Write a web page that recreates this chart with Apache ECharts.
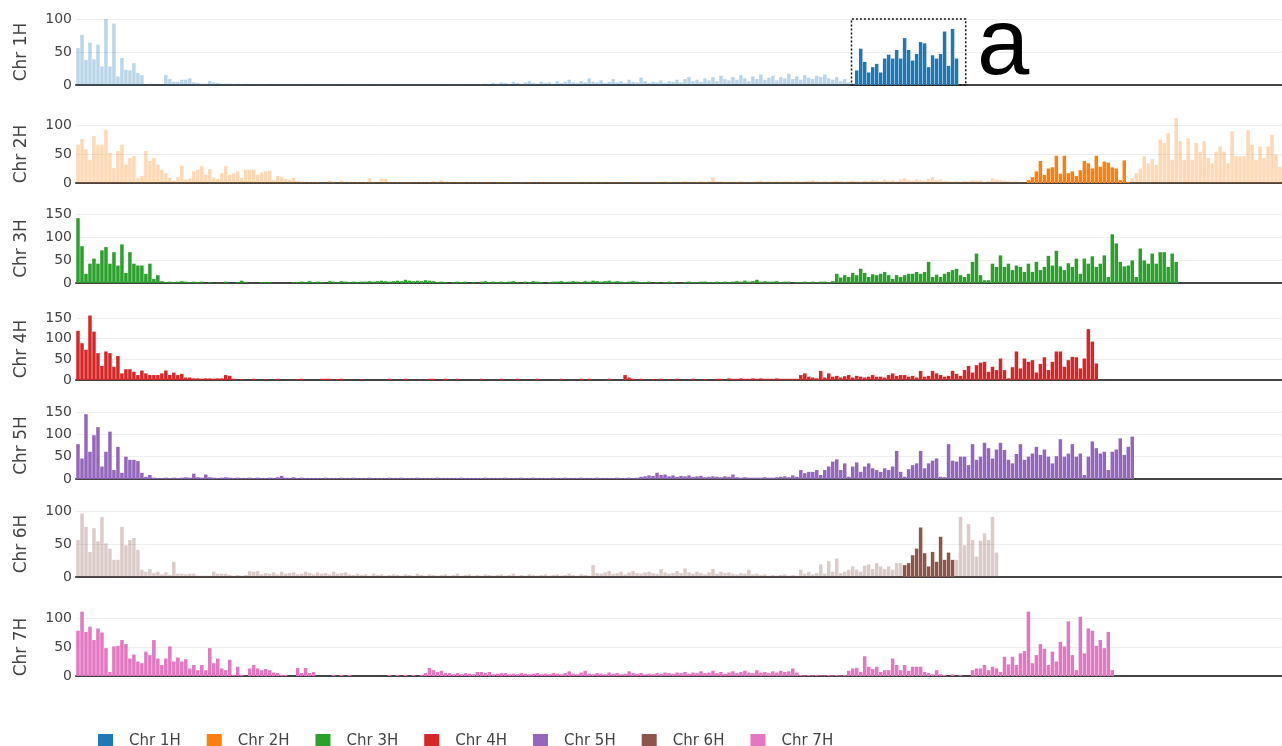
<!DOCTYPE html>
<html>
<head>
<meta charset="utf-8">
<script src="https://cdn.jsdelivr.net/npm/echarts@6/dist/echarts.min.js"></script>
<style>
html,body{margin:0;padding:0;background:#fff;}
#chart{width:1282px;height:746px;}
</style>
</head>
<body>
<div id="chart"></div>
<script>
// Chromosome names (y-axis titles / legend)
const chromosomes = ['Chr 1H', 'Chr 2H', 'Chr 3H', 'Chr 4H', 'Chr 5H', 'Chr 6H', 'Chr 7H'];
const colors = ['#1f77b4', '#ff7f0e', '#2ca02c', '#d62728', '#9467bd', '#8c564b', '#e377c2'];
// Number of position bins along the chromosome axis
const binCount = 302;
// Per-panel y-axis top tick value
const yTopTick = [100, 100, 150, 150, 150, 100, 100];
// Full-panel extent used for the selection box on Chr 1H
const chr1HBoxY = 106;
// Highlighted bin ranges (others faded); null = whole chromosome highlighted
const highlightBins = [[195, 220], [238, 263], null, null, null, [207, 219], null];
// Selection box on Chr 1H (bin coordinates)
const selectionBox = [194.2, 222.8];

const chr1H = [
  56, 76, 38, 64, 39, 61, 28, 100, 28, 93,
  13, 41, 23, 22, 33, 18, 15, 0, 2, 0,
  0, 0, 15, 9, 5, 5, 8, 8, 10, 4,
  3, 2, 2, 6, 4, 3, 2, 2, 2, 1,
  2, 1, 2, 1, 1, 0, 1, 1, 0, 1,
  1, 0, 1, 1, 0, 1, 0, 1, 1, 0,
  1, 1, 0, 1, 0, 1, 1, 0, 1, 1,
  0, 1, 0, 1, 1, 0, 1, 0, 1, 1,
  1, 0, 1, 1, 0, 1, 1, 0, 1, 1,
  0, 1, 1, 0, 1, 1, 0, 1, 1, 1,
  1, 1, 2, 1, 3, 2, 4, 3, 2, 5,
  3, 2, 4, 6, 3, 2, 5, 3, 4, 2,
  6, 3, 5, 8, 4, 3, 6, 4, 10, 5,
  4, 7, 3, 5, 9, 4, 6, 3, 8, 5,
  4, 11, 6, 3, 5, 4, 7, 3, 6, 5,
  8, 4, 9, 12, 6, 8, 5, 10, 7, 12,
  6, 14, 9, 7, 12, 8, 15, 10, 6, 13,
  9, 16, 8, 11, 14, 7, 12, 10, 17, 9,
  13, 8, 15, 11, 9, 14, 12, 16, 10, 8,
  12, 6, 9, 4, 3, 22, 55, 35, 19, 27,
  32, 19, 40, 46, 40, 53, 40, 71, 53, 37,
  47, 65, 63, 27, 45, 40, 47, 81, 29, 85,
  40
];
const chr2H = [
  66, 76, 58, 40, 81, 66, 66, 92, 52, 26,
  55, 66, 32, 43, 46, 9, 12, 55, 38, 43,
  32, 23, 17, 9, 4, 10, 30, 6, 8, 20,
  23, 29, 14, 24, 9, 7, 17, 29, 14, 17,
  20, 9, 23, 23, 23, 14, 18, 20, 21, 5,
  12, 10, 7, 6, 9, 3, 2, 1, 2, 1,
  2, 1, 1, 4, 2, 1, 4, 1, 2, 1,
  2, 1, 2, 8, 2, 1, 8, 7, 2, 1,
  2, 1, 2, 2, 1, 1, 2, 1, 2, 3,
  2, 5, 2, 2, 1, 2, 2, 1, 2, 1,
  2, 1, 2, 2, 1, 2, 1, 2, 2, 1,
  1, 2, 1, 2, 1, 1, 2, 1, 2, 1,
  2, 1, 2, 1, 2, 2, 1, 2, 1, 2,
  1, 2, 1, 2, 2, 1, 2, 1, 1, 2,
  2, 1, 2, 1, 2, 2, 1, 3, 2, 1,
  2, 2, 3, 2, 1, 2, 3, 2, 3, 10,
  2, 3, 2, 1, 2, 2, 3, 2, 1, 2,
  3, 4, 2, 3, 2, 3, 2, 3, 3, 2,
  3, 2, 3, 4, 5, 3, 2, 3, 2, 3,
  4, 3, 2, 3, 4, 3, 2, 4, 3, 5,
  4, 3, 6, 4, 5, 3, 6, 8, 5, 4,
  6, 5, 4, 7, 10, 5, 6, 4, 3, 2,
  3, 2, 4, 3, 5, 4, 5, 2, 3, 8,
  6, 5, 4, 3, 2, 3, 2, 1, 5, 10,
  20, 38, 14, 25, 27, 47, 16, 47, 17, 20,
  12, 22, 38, 34, 25, 47, 28, 37, 35, 27,
  25, 5, 39, 2, 8, 17, 25, 46, 34, 41,
  31, 75, 69, 86, 40, 112, 72, 40, 77, 40,
  69, 54, 72, 43, 34, 54, 63, 54, 34, 89,
  46, 46, 46, 91, 66, 40, 63, 43, 63, 83,
  49, 28
];
const chr3H = [
  141, 80, 20, 42, 53, 42, 71, 78, 42, 67,
  38, 84, 22, 67, 42, 38, 38, 20, 42, 9,
  17, 4, 2, 3, 2, 3, 4, 3, 2, 3,
  2, 3, 0, 2, 0, 1, 0, 3, 0, 0,
  2, 5, 2, 0, 0, 0, 2, 2, 2, 0,
  0, 0, 0, 0, 2, 2, 3, 2, 4, 2,
  3, 2, 0, 4, 3, 2, 4, 3, 2, 3,
  2, 3, 3, 4, 3, 4, 5, 4, 3, 4,
  5, 4, 7, 5, 4, 5, 4, 6, 5, 4,
  2, 3, 2, 0, 2, 3, 2, 3, 0, 2,
  0, 3, 4, 2, 3, 2, 3, 2, 3, 4,
  2, 0, 3, 2, 4, 3, 2, 0, 2, 3,
  3, 4, 2, 3, 4, 3, 2, 4, 3, 5,
  4, 3, 4, 5, 3, 4, 3, 2, 3, 4,
  3, 2, 2, 3, 0, 2, 0, 2, 3, 2,
  0, 0, 2, 3, 2, 2, 3, 3, 2, 2,
  3, 2, 3, 2, 3, 4, 3, 5, 3, 4,
  7, 3, 4, 3, 3, 4, 2, 3, 3, 0,
  2, 2, 3, 2, 3, 2, 3, 3, 2, 4,
  20, 12, 17, 13, 22, 17, 31, 22, 13, 19,
  17, 20, 24, 17, 9, 17, 13, 17, 20, 20,
  24, 20, 24, 46, 13, 18, 13, 20, 24, 28,
  31, 17, 13, 20, 46, 64, 17, 6, 6, 42,
  35, 60, 35, 42, 28, 38, 35, 24, 42, 24,
  46, 28, 35, 59, 38, 70, 36, 28, 43, 35,
  53, 20, 53, 42, 58, 35, 42, 60, 13, 106,
  86, 46, 36, 38, 49, 13, 75, 49, 42, 64,
  42, 67, 67, 35, 64, 46
];
const chr4H = [
  119, 89, 73, 156, 117, 65, 34, 69, 65, 32,
  58, 16, 26, 26, 20, 12, 23, 16, 12, 12,
  12, 16, 23, 12, 18, 12, 15, 6, 6, 4,
  4, 3, 4, 4, 3, 4, 4, 12, 10, 3,
  0, 2, 0, 0, 3, 0, 0, 2, 0, 0,
  3, 0, 0, 0, 0, 2, 3, 0, 0, 0,
  0, 3, 3, 3, 0, 2, 3, 0, 0, 0,
  0, 2, 0, 0, 0, 0, 0, 0, 3, 0,
  0, 0, 3, 0, 0, 0, 0, 0, 3, 3,
  0, 0, 3, 0, 0, 3, 0, 0, 0, 0,
  0, 3, 0, 0, 0, 0, 3, 0, 0, 0,
  3, 0, 0, 0, 0, 3, 0, 0, 0, 0,
  0, 3, 0, 0, 0, 0, 3, 0, 3, 0,
  0, 0, 0, 3, 0, 0, 0, 12, 6, 3,
  0, 3, 0, 0, 2, 0, 3, 0, 2, 0,
  3, 0, 0, 0, 3, 0, 0, 2, 0, 0,
  3, 3, 0, 4, 3, 3, 4, 3, 3, 4,
  3, 4, 3, 3, 3, 4, 3, 3, 3, 3,
  3, 12, 16, 8, 6, 4, 22, 6, 16, 8,
  10, 6, 9, 12, 6, 10, 8, 6, 8, 12,
  8, 8, 6, 12, 16, 10, 12, 12, 8, 10,
  6, 22, 8, 10, 22, 16, 12, 8, 10, 22,
  15, 10, 24, 34, 18, 36, 42, 44, 20, 32,
  24, 52, 24, 4, 31, 69, 28, 52, 44, 48,
  18, 39, 55, 24, 44, 69, 69, 32, 48, 56,
  55, 28, 52, 123, 93, 40
];
const chr5H = [
  78, 46, 145, 61, 98, 116, 28, 61, 106, 20,
  72, 14, 50, 43, 43, 40, 14, 5, 9, 3,
  2, 2, 3, 2, 3, 2, 3, 4, 3, 12,
  4, 3, 10, 4, 3, 2, 3, 4, 3, 2,
  3, 2, 2, 3, 2, 3, 2, 2, 3, 2,
  4, 7, 3, 2, 4, 2, 3, 2, 2, 2,
  2, 2, 3, 2, 2, 2, 3, 2, 2, 3,
  2, 2, 2, 3, 2, 2, 2, 2, 3, 2,
  2, 3, 2, 2, 2, 3, 2, 2, 2, 2,
  3, 2, 2, 2, 2, 2, 3, 2, 2, 2,
  2, 2, 3, 2, 2, 2, 2, 3, 2, 2,
  2, 3, 2, 2, 3, 2, 2, 2, 2, 3,
  2, 2, 3, 2, 2, 2, 3, 2, 2, 2,
  3, 2, 2, 2, 2, 3, 2, 2, 3, 2,
  3, 5, 6, 8, 7, 14, 9, 10, 6, 8,
  5, 7, 6, 8, 5, 6, 7, 4, 5, 6,
  5, 4, 6, 5, 10, 4, 3, 4, 3, 3,
  3, 3, 4, 3, 3, 4, 5, 6, 4, 8,
  5, 20, 13, 16, 16, 20, 9, 20, 28, 39,
  44, 20, 35, 5, 28, 37, 16, 28, 35, 24,
  20, 16, 24, 20, 28, 63, 16, 5, 22, 31,
  35, 63, 24, 35, 41, 46, 5, 4, 78, 41,
  39, 50, 50, 31, 78, 43, 50, 81, 69, 46,
  66, 81, 65, 43, 35, 56, 78, 43, 50, 57,
  72, 54, 66, 50, 35, 51, 89, 50, 57, 78,
  50, 57, 9, 50, 84, 69, 57, 61, 20, 61,
  66, 91, 54, 72, 95
];
const chr6H = [
  56, 96, 76, 38, 74, 54, 91, 51, 43, 26,
  26, 76, 48, 56, 59, 41, 11, 8, 12, 6,
  8, 4, 7, 3, 23, 5, 5, 4, 5, 5,
  2, 2, 2, 2, 8, 5, 5, 5, 3, 2,
  3, 2, 3, 9, 8, 9, 4, 6, 5, 7,
  4, 8, 5, 6, 7, 4, 5, 8, 6, 4,
  7, 5, 6, 4, 8, 5, 6, 7, 4, 3,
  5, 3, 4, 2, 5, 3, 4, 2, 3, 4,
  3, 2, 4, 3, 2, 5, 3, 2, 4, 3,
  2, 3, 4, 2, 3, 5, 2, 3, 4, 2,
  3, 2, 4, 3, 2, 3, 4, 2, 3, 5,
  2, 3, 2, 4, 3, 2, 3, 4, 2, 3,
  4, 2, 3, 5, 3, 2, 4, 3, 2, 18,
  6, 5, 7, 9, 5, 6, 8, 4, 7, 9,
  6, 5, 7, 8, 6, 5, 12, 7, 5, 6,
  9, 6, 13, 7, 5, 8, 6, 4, 7, 12,
  5, 8, 6, 7, 5, 4, 6, 5, 11, 4,
  5, 3, 4, 2, 3, 2, 3, 4, 2, 3,
  2, 11, 5, 8, 4, 6, 19, 5, 24, 8,
  28, 6, 8, 11, 16, 11, 8, 17, 19, 12,
  21, 16, 12, 16, 11, 21, 21, 18, 21, 33,
  43, 75, 36, 16, 38, 23, 61, 26, 37, 26,
  26, 91, 48, 80, 56, 31, 55, 66, 56, 91,
  37
];
const chr7H = [
  78, 111, 76, 85, 62, 82, 75, 48, 7, 51,
  52, 62, 55, 30, 37, 25, 22, 42, 36, 62,
  30, 19, 30, 51, 25, 32, 25, 29, 13, 19,
  10, 19, 10, 48, 22, 30, 13, 10, 28, 2,
  16, 2, 0, 13, 19, 13, 10, 12, 10, 6,
  5, 2, 2, 0, 0, 14, 5, 14, 5, 7,
  0, 0, 0, 0, 2, 0, 2, 0, 2, 0,
  0, 0, 0, 0, 0, 0, 0, 0, 2, 0,
  2, 0, 2, 0, 2, 0, 2, 5, 14, 10,
  7, 9, 5, 5, 3, 5, 3, 5, 4, 3,
  7, 7, 5, 7, 3, 4, 5, 5, 3, 4,
  3, 5, 4, 3, 4, 5, 3, 4, 3, 5,
  4, 3, 5, 8, 4, 3, 6, 9, 4, 3,
  5, 4, 3, 6, 4, 5, 3, 4, 8, 5,
  4, 5, 3, 4, 3, 5, 4, 6, 5, 4,
  6, 5, 7, 4, 6, 5, 8, 5, 6, 9,
  5, 7, 4, 6, 8, 5, 7, 9, 6, 5,
  10, 6, 7, 5, 8, 6, 9, 7, 8, 13,
  6, 2, 1, 2, 1, 2, 1, 1, 2, 1,
  2, 1, 2, 9, 13, 14, 7, 34, 16, 12,
  16, 7, 10, 10, 30, 19, 10, 19, 9, 16,
  16, 16, 7, 5, 3, 10, 3, 2, 0, 3,
  0, 2, 0, 0, 10, 13, 13, 19, 10, 16,
  13, 7, 33, 20, 33, 19, 39, 43, 111, 22,
  36, 55, 47, 19, 42, 25, 59, 51, 94, 36,
  10, 102, 39, 82, 78, 52, 62, 48, 76, 10
];
const chrValues = [chr1H, chr2H, chr3H, chr4H, chr5H, chr6H, chr7H];

// ---- layout (pixels) ----
const panelTop = [19, 125, 214, 318, 412, 511, 618];
const panelHeight = [66, 58, 69, 62, 67, 66, 58];
const FONT = 'DejaVu Sans';

const chart = echarts.init(document.getElementById('chart'), null, {renderer: 'canvas'});

const grids = [], xAxes = [], yAxes = [], series = [];
chromosomes.forEach((name, i) => {
  grids.push({left: 76, right: 0, top: panelTop[i], height: panelHeight[i], containLabel: false});
  xAxes.push({
    type: 'value', gridIndex: i, min: 0, max: binCount,
    axisLine: {show: true, onZero: true, lineStyle: {color: '#444', width: 2}},
    axisTick: {show: false}, axisLabel: {show: false}, splitLine: {show: false}
  });
  yAxes.push({
    type: 'value', gridIndex: i, min: 0, max: yTopTick[i], interval: 50,
    axisLine: {show: false}, axisTick: {show: false},
    axisLabel: {color: '#444', fontSize: 14, fontFamily: FONT, margin: 4},
    splitLine: {show: true, lineStyle: {color: '#eee', width: 1}},
    name: name, nameLocation: 'middle', nameGap: 46,
    nameTextStyle: {color: '#444', fontSize: 17, fontFamily: FONT}
  });
  const hl = highlightBins[i];
  const data = chrValues[i].map((v, k) => {
    const on = !hl || (k >= hl[0] && k <= hl[1]);
    return {value: [k + 0.5, v], itemStyle: {opacity: on ? 1 : 0.3}};
  });
  const s = {
    name: name, type: 'bar', xAxisIndex: i, yAxisIndex: i,
    barWidth: 3.5, clip: false, silent: true,
    itemStyle: {color: colors[i]},
    data: data
  };
  if (i === 0) {
    s.markArea = {
      silent: true,
      label: {show: false},
      itemStyle: {color: 'rgba(0,0,0,0)', borderColor: '#111', borderWidth: 1.5, borderType: [2, 2]},
      data: [[{xAxis: selectionBox[0], yAxis: 0}, {xAxis: selectionBox[1], yAxis: chr1HBoxY}]]
    };
  }
  series.push(s);
});

const option = {
  animation: false,
  backgroundColor: '#fff',
  grid: grids,
  xAxis: xAxes,
  yAxis: yAxes,
  legend: {
    data: chromosomes, left: 93, top: 729, icon: 'rect',
    itemWidth: 15, itemHeight: 15, itemGap: 26,
    textStyle: {color: '#444', fontSize: 15, fontFamily: FONT, padding: [0, 0, 0, 11]}
  },
  graphic: [{
    type: 'text', x: 977, y: 48, z: 100,
    style: {text: 'a', fontSize: 94, fontFamily: 'Liberation Sans', fill: '#000', verticalAlign: 'middle', align: 'left'}
  }],
  series: series
};
chart.setOption(option);
</script>
</body>
</html>
